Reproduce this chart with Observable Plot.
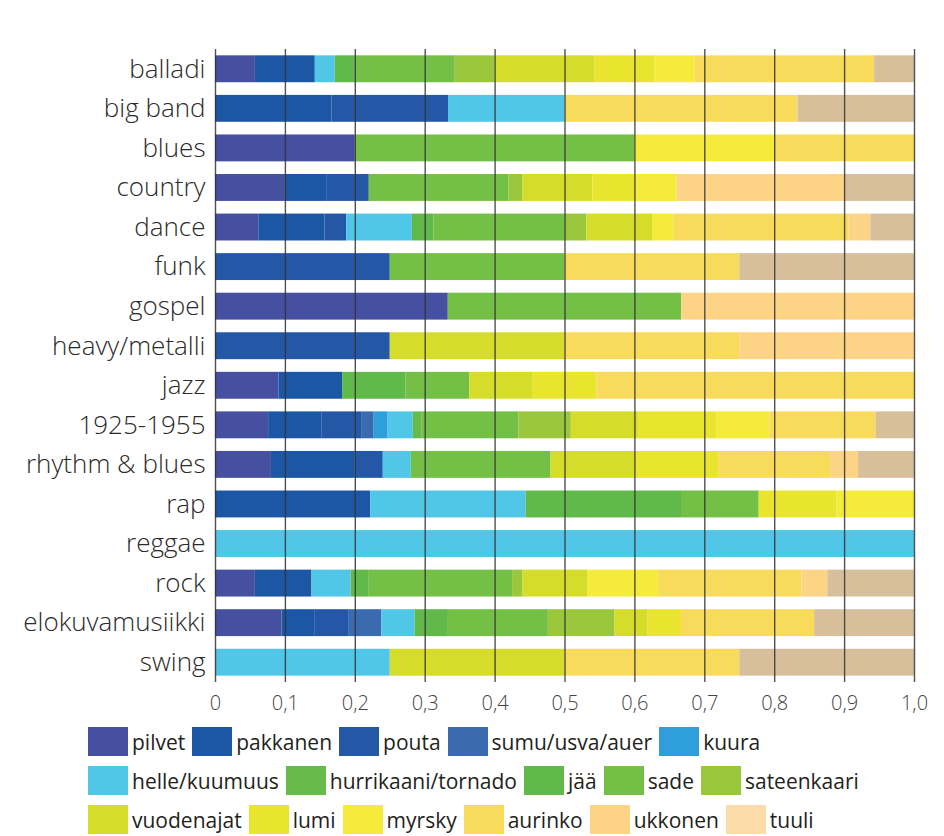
<!DOCTYPE html>
<html><head><meta charset="utf-8">
<script src="https://cdn.jsdelivr.net/npm/d3@7"></script>
<script src="https://cdn.jsdelivr.net/npm/@observablehq/plot@0.6"></script>
<style>
body{margin:0;background:#fff;font-family:"Open Sans",sans-serif;}
#legend{margin-left:88px;margin-top:12px;}
.row{display:flex;align-items:center;height:29px;margin-bottom:10px;}
.item{display:flex;align-items:center;margin-right:7px;}
.sw{width:40px;height:29px;margin-right:4px;}
.lab{font-size:21px;color:#231f20;white-space:nowrap;}
</style></head><body>
<div id="chart"></div><div id="legend"></div>
<script>
const categories = ["balladi","big band","blues","country","dance","funk","gospel","heavy/metalli","jazz","1925-1955","rhythm & blues","rap","reggae","rock","elokuvamusiikki","swing"];

const seriesNames = ["pilvet","pakkanen","pouta","sumu/usva/auer","kuura","helle/kuumuus","hurrikaani/tornado","jää","sade","sateenkaari","vuodenajat","lumi","myrsky","aurinko","ukkonen","tuuli","muu"];
const seriesColors = ["#4550a0","#1b57a5","#2457a6","#3a6bb1","#2e9fdb","#50c7e7","#66bb4b","#60b948","#74bf45","#9bc73c","#d5dd2a","#e9e52f","#f5eb3b","#f9db5c","#fdd485","#fcdca8","#d8bf9b"];
const legendNames = seriesNames.slice(0, 16);

// values per series, aligned with categories
const pilvet      = [.057, 0, .2, .1, .0625, 0, .333, 0, .0909, .076, .08, 0, 0, .057, .0952, 0];
const pakkanen    = [.0857, .1667, 0, .06, .094, 0, 0, 0, .0909, .076, .12, .222, 0, .081, .0476, 0];
const pouta       = [0, .1667, 0, .06, .031, .25, 0, .25, 0, .057, .04, 0, 0, 0, .0476, 0];
const sumu        = [0, 0, 0, 0, 0, 0, 0, 0, 0, .018, 0, 0, 0, 0, .0476, 0];
const kuura       = [0, 0, 0, 0, 0, 0, 0, 0, 0, .02, 0, 0, 0, 0, 0, 0];
const helle       = [.0286, .1667, 0, 0, .094, 0, 0, 0, 0, .036, .04, .222, 1, .056, .0476, .25];
const hurrikaani  = [0, 0, 0, 0, 0, 0, 0, 0, 0, .012, 0, 0, 0, 0, 0, 0];
const jaa         = [.0286, 0, 0, 0, .031, 0, 0, 0, .0909, 0, 0, .222, 0, .026, .0476, 0];
const sade        = [.143, 0, .4, .2, .1875, .25, .334, 0, .0909, .139, .2, .111, 0, .205, .143, 0];
const sateenkaari = [.057, 0, 0, .02, .031, 0, 0, 0, 0, .075, 0, 0, 0, .015, .0952, 0];
const vuodenajat  = [.143, 0, 0, .1, .094, 0, 0, .25, .0909, .096, .12, 0, 0, .093, .0476, .25];
const lumi        = [.0857, 0, 0, .06, 0, 0, 0, 0, .0909, .112, .12, .111, 0, 0, .0476, 0];
const myrsky      = [.057, 0, .2, .06, .031, 0, 0, 0, 0, .076, 0, .111, 0, .101, 0, 0];
const aurinko     = [.257, .3333, .2, 0, .25, .25, 0, .25, .4545, .152, .16, 0, 0, .205, .1905, .25];
const ukkonen     = [0, 0, 0, .24, .031, 0, .333, .25, 0, 0, .04, 0, 0, .037, 0, 0];
const tuuli       = [0, 0, 0, 0, 0, 0, 0, 0, 0, 0, 0, 0, 0, 0, 0, 0];
const muu         = [.057, .1667, 0, .1, .0625, .25, 0, 0, 0, .055, .08, 0, 0, .124, .1429, .25];

const xTicks = [0, .1, .2, .3, .4, .5, .6, .7, .8, .9, 1];

const seriesValues = [pilvet, pakkanen, pouta, sumu, kuura, helle, hurrikaani, jaa, sade, sateenkaari, vuodenajat, lumi, myrsky, aurinko, ukkonen, tuuli, muu];
const data = [];
categories.forEach((c, i) => {
  seriesNames.forEach((s, j) => {
    const v = seriesValues[j][i];
    if (v > 0) data.push({genre: c, series: s, value: v});
  });
});

const fmt = d => d === 0 ? "0" : d.toFixed(1).replace(".", ",");

const chart = Plot.plot({
  width: 944,
  height: 715,
  marginLeft: 215,
  marginRight: 30,
  marginTop: 49,
  marginBottom: 33,
  style: {fontFamily: "'Open Sans', sans-serif", color: "#2b2b2b", background: "#fff"},
  x: {domain: [0, 1]},
  y: {domain: categories, paddingInner: 0.32, paddingOuter: 0.16, round: false},
  color: {domain: seriesNames, range: seriesColors},
  marks: [
    Plot.barX(data, Plot.stackX({x: "value", y: "genre", fill: "series", order: seriesNames, offset: "normalize"})),
    Plot.ruleX(xTicks, {stroke: "#333", strokeWidth: 1.4, strokeOpacity: 0.85}),
    Plot.axisY({tickSize: 0, tickPadding: 10, fontSize: 26, fontWeight: 300, label: null, fill: "#2a2a2a"}),
    Plot.axisX({ticks: xTicks, tickFormat: fmt, tickSize: 0, tickPadding: 13, fontSize: 20, fontWeight: 300, label: null, fill: "#444"})
  ]
});
document.getElementById("chart").appendChild(chart);

// legend
const legend = document.getElementById("legend");
const rowSizes = [5, 5, 6];
let k = 0;
rowSizes.forEach(n => {
  const row = document.createElement("div");
  row.className = "row";
  legendNames.slice(k, k + n).forEach((name, j) => {
    const idx = k + j;
    const item = document.createElement("div");
    item.className = "item";
    const sw = document.createElement("div");
    sw.className = "sw";
    sw.style.background = seriesColors[idx];
    const lab = document.createElement("span");
    lab.className = "lab";
    lab.textContent = name;
    item.appendChild(sw); item.appendChild(lab);
    row.appendChild(item);
  });
  legend.appendChild(row);
  k += n;
});
</script></body></html>
